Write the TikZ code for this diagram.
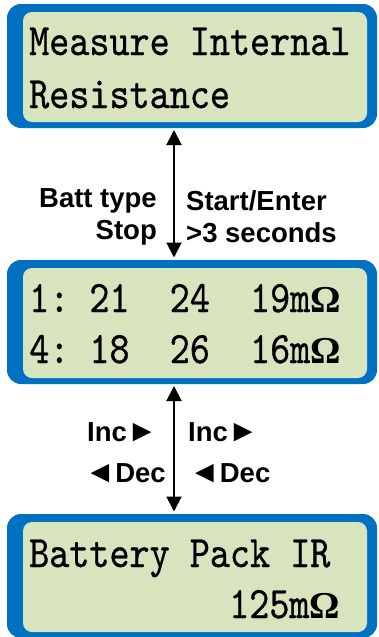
\documentclass[tikz,border=0pt]{standalone}
\usepackage[no-math]{fontspec}
\usepackage{xcolor}
\usepackage{tikz}
\usetikzlibrary{arrows.meta,positioning,calc}

\newfontfamily\lcdfont{lmmono10-regular.otf}[FakeStretch=0.85,FakeBold=0.6]
\newfontfamily\ohmfont{Liberation Serif}
\newfontfamily\keyfont{Liberation Sans}
\definecolor{lcdblue}{RGB}{0,112,192}
\definecolor{lcdgreen}{RGB}{215,228,189}
\newcommand{\ohmsign}{{\ohmfont\bfseries\fontsize{38}{38}\selectfont Ω}}
\newcommand{\tri}[1]{{\fontsize{31}{31}\selectfont #1}}

\tikzset{
	frame/.style={fill=lcdblue,rounded corners=14pt,inner sep=0pt,outer sep=0pt,minimum width=370pt,minimum height=124pt,anchor=north west},
	screen/.style={fill=lcdgreen,rounded corners=9pt,inner sep=0pt,outer sep=0pt,minimum width=344pt,minimum height=110pt,anchor=north west},
	lcd/.style={anchor=base west,inner sep=0pt,font={\lcdfont\fontsize{45}{45}\selectfont}},
	key/.style={inner sep=0pt,font={\keyfont\bfseries\fontsize{27.5}{27.5}\selectfont}},
	link/.style={line width=2pt,{Triangle[width=15pt,length=15pt]}-{Triangle[width=15pt,length=15pt]},shorten >=2.5pt,shorten <=2pt}
}

\begin{document}
\begin{tikzpicture}[x=1pt,y=-1pt]
		\useasboundingbox (0,0) rectangle (379,637);
		\node[frame] (top) at (7,4) {};
		\node[screen] (topscr) at ($(top.north west)+(16,8)$) {};
		\node[frame] (mid) at (7,260) {};
		\node[screen] (midscr) at ($(mid.north west)+(16,8)$) {};
		\node[frame] (bot) at (7,514) {};
		\node[screen] (botscr) at ($(bot.north west)+(16,8)$) {};
		\node[lcd] (t1) at (29,55) {Measure Internal};
		\node[lcd] (t2) at (29,108) {Resistance};
		\node[lcd] (m1) at (29,312) {1:~21~~24~~19m\ohmsign};
		\node[lcd] (m2) at (29,363) {4:~18~~26~~16m\ohmsign};
		\node[lcd] (b1) at (29,567) {Battery Pack IR};
		\node[lcd] (b2) at (229,618) {125m\ohmsign};
		\coordinate (ax) at (174,0);
		\draw[link] (top.south -| ax) -- (mid.north -| ax);
		\draw[link] (mid.south -| ax) -- (bot.north -| ax);
		\node[key,anchor=base east] (batt) at (157,207) {Batt type};
		\node[key,anchor=base east] (stop) at (157,239) {Stop};
		\node[key,anchor=base west] (start) at (186,210) {Start/Enter};
		\node[key,anchor=base west] (secs) at (186,242) {>3 seconds};
		\node[key,anchor=base west] (incl) at (87,441) {Inc\tri{►}};
		\node[key,anchor=base east] (decl) at (166,482) {\tri{◄}Dec};
		\node[key,anchor=base west] (incr) at (188,441) {Inc\tri{►}};
		\node[key,anchor=base west] (decr) at (189,482) {\tri{◄}Dec};
\end{tikzpicture}
\end{document}
